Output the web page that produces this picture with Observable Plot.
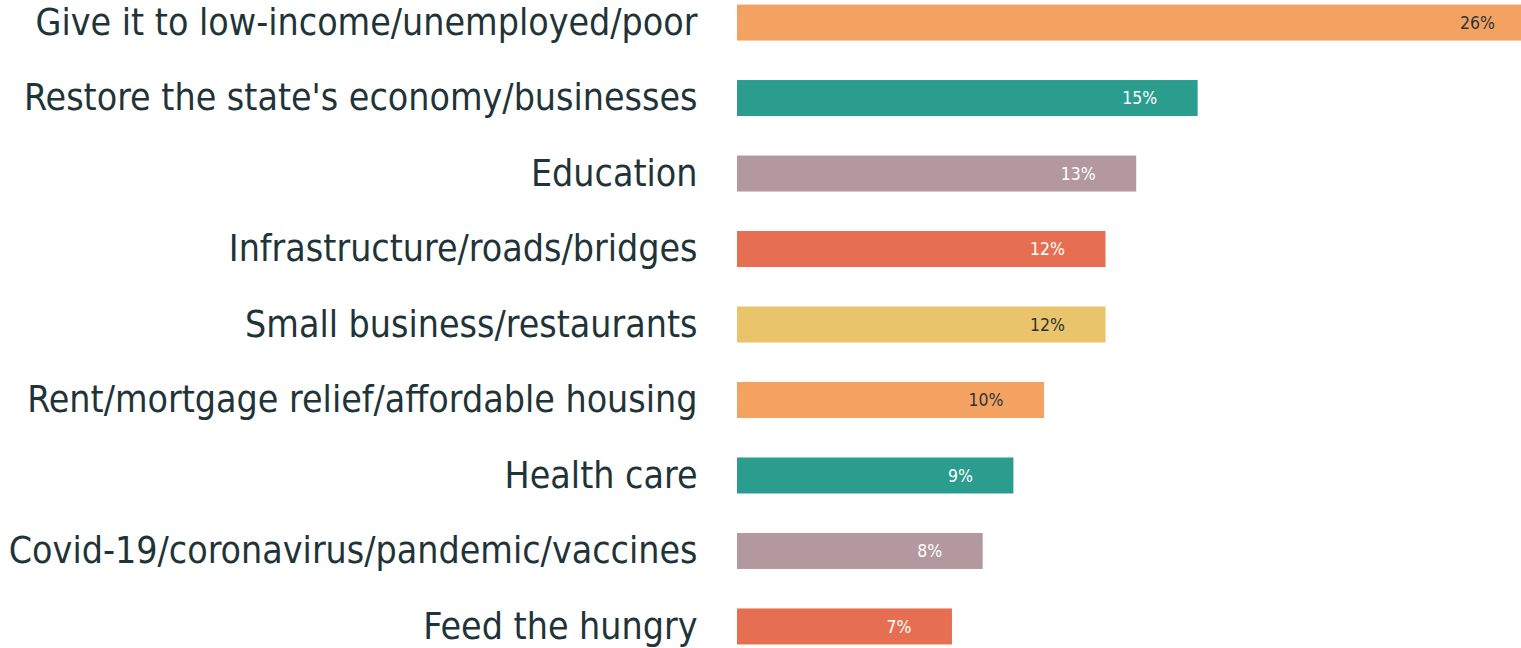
<!DOCTYPE html>
<html>
<head>
<meta charset="utf-8">
<script src="https://cdn.jsdelivr.net/npm/d3@7"></script>
<script src="https://cdn.jsdelivr.net/npm/@observablehq/plot@0.6"></script>
<style>
  html, body { margin: 0; padding: 0; background: #fff; }
  #chart svg { display: block; }
</style>
</head>
<body>
<div id="chart"></div>
<script>
const categories = [
  "Give it to low-income/unemployed/poor",
  "Restore the state's economy/businesses",
  "Education",
  "Infrastructure/roads/bridges",
  "Small business/restaurants",
  "Rent/mortgage relief/affordable housing",
  "Health care",
  "Covid-19/coronavirus/pandemic/vaccines",
  "Feed the hungry"
];
const values = [26, 15, 13, 12, 12, 10, 9, 8, 7];
const valueLabels = ["26%", "15%", "13%", "12%", "12%", "10%", "9%", "8%", "7%"];

const palette = ["#F4A261", "#2A9D8F", "#B4989F", "#E76F51", "#E9C46A", "#F4A261", "#2A9D8F", "#B4989F", "#E76F51"];
const darkText = new Set(["#F4A261", "#E9C46A"]);

const data = categories.map((c, i) => ({
  category: c,
  value: values[i],
  label: valueLabels[i],
  color: palette[i],
  textColor: darkText.has(palette[i]) ? "#2b3538" : "#ffffff"
}));

const chart = Plot.plot({
  width: 1521,
  height: 648,
  marginLeft: 737,
  marginRight: 0,
  marginTop: 1,
  marginBottom: 0,
  style: { fontFamily: "'DejaVu Sans Condensed', 'DejaVu Sans', sans-serif", background: "#fff" },
  x: { domain: [0, 25.53], axis: null },
  y: { domain: categories, paddingInner: 0.523, paddingOuter: 0.047, round: false, label: null },
  marks: [
    Plot.barX(data, { x: "value", y: "category", fill: "color", clip: true }),
    Plot.text(data, {
      x: "value", y: "category", text: "label", fill: "textColor",
      textAnchor: "end", dx: -41, fontSize: 17.5
    }),
    Plot.axisY({
      tickSize: 0, tickPadding: 40, fontSize: 37.2, color: "#1f3438", label: null
    })
  ]
});
document.getElementById("chart").appendChild(chart);
</script>
</body>
</html>
